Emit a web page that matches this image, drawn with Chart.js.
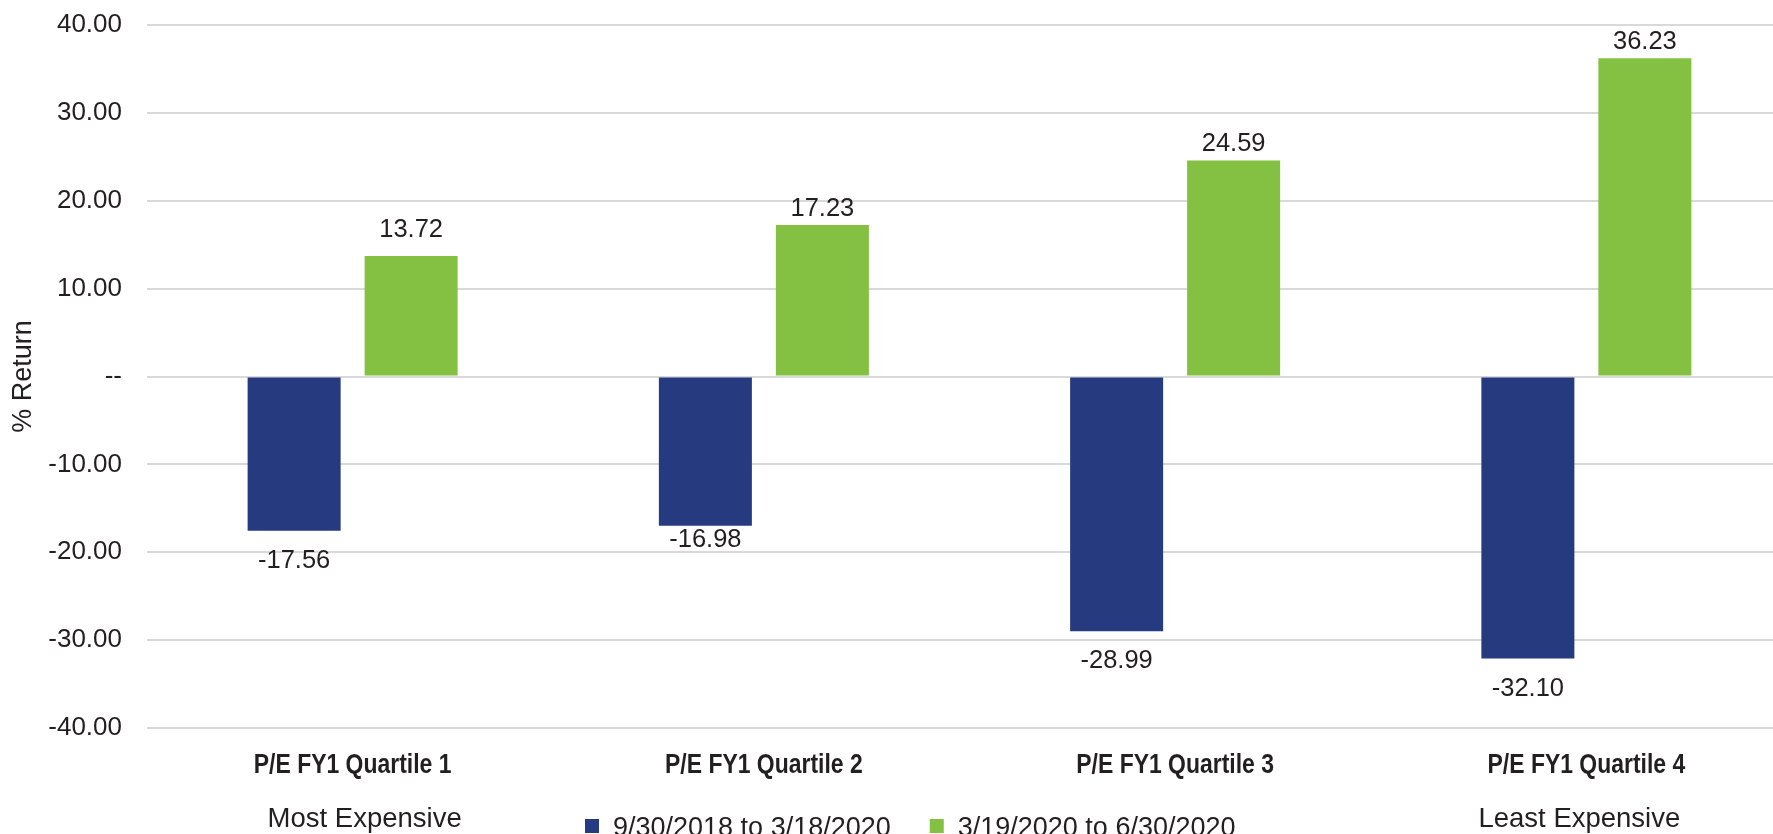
<!DOCTYPE html>
<html lang="en">
<head>
    <meta charset="UTF-8">
    <title>P/E FY1 Quartile Returns</title>
    <script src="https://cdn.jsdelivr.net/npm/chart.js"></script>
    <style>
        html, body {
            margin: 0;
            padding: 0;
            background: #ffffff;
            overflow: hidden;
        }
        /* the original chart runs a little past the right edge, so crop it */
        #wrap {
            width: 1773px;
            height: 834px;
            overflow: hidden;
        }
    </style>
</head>
<body>
    <div id="wrap">
        <canvas id="peChart" width="1792" height="834"></canvas>
    </div>

    <script>
        // Data
        const categories = ['P/E FY1 Quartile 1', 'P/E FY1 Quartile 2', 'P/E FY1 Quartile 3', 'P/E FY1 Quartile 4'];
        const subLabels = ['Most Expensive', '', '', 'Least Expensive'];
        const seriesNames = ['9/30/2018 to 3/18/2020', '3/19/2020 to 6/30/2020'];
        const selloff = [-17.56, -16.98, -28.99, -32.10];
        const rebound = [13.72, 17.23, 24.59, 36.23];
        const yTicks = [-40, -30, -20, -10, 0, 10, 20, 30, 40];

        const blue = '#263a80';
        const green = '#84c041';
        const textColor = '#231f20';
        const sans = '"Liberation Sans", Arial, sans-serif';

        // label offsets from the bar end (px), per dataset / bar, as placed in the original
        const labelGap = [[37, 21, 37, 37], [19, 9, 9, 9]];

        // value labels above / below each bar
        const valueLabels = {
            id: 'valueLabels',
            afterDatasetsDraw(chart) {
                const ctx = chart.ctx;
                ctx.save();
                ctx.font = '25.5px ' + sans;
                ctx.fillStyle = textColor;
                ctx.textAlign = 'center';
                ctx.textBaseline = 'alphabetic';
                chart.data.datasets.forEach((ds, i) => {
                    chart.getDatasetMeta(i).data.forEach((bar, j) => {
                        const v = ds.data[j];
                        const gap = labelGap[i][j];
                        const y = v >= 0 ? bar.y - gap : bar.y + gap;
                        ctx.fillText(v.toFixed(2), bar.x, y);
                    });
                });
                ctx.restore();
            }
        };

        // category labels (condensed bold), sub labels and legend row
        const bottomRow = {
            id: 'bottomRow',
            afterDraw(chart) {
                const ctx = chart.ctx;
                const xs = chart.scales.x;
                const area = chart.chartArea;
                ctx.save();
                ctx.fillStyle = textColor;
                ctx.textBaseline = 'alphabetic';
                ctx.textAlign = 'center';

                // category names, squeezed to look like a condensed face
                ctx.font = 'bold 27px ' + sans;
                categories.forEach((c, i) => {
                    const cx = xs.getPixelForValue(i);
                    ctx.save();
                    ctx.translate(cx, area.bottom + 45);
                    ctx.scale(0.85, 1);
                    ctx.fillText(c, 0, 0);
                    ctx.restore();
                });

                // Most / Least Expensive
                ctx.font = '27.5px ' + sans;
                const nudge = [12, 0, 0, -7];
                subLabels.forEach((t, i) => {
                    if (t) ctx.fillText(t, xs.getPixelForValue(i) + nudge[i], area.bottom + 99);
                });

                // legend
                ctx.font = '27px ' + sans;
                ctx.textAlign = 'left';
                let x = area.left + 438;
                chart.data.datasets.forEach((ds) => {
                    ctx.fillStyle = ds.backgroundColor;
                    ctx.fillRect(x, area.bottom + 91, 14, 14);
                    ctx.fillStyle = textColor;
                    ctx.fillText(ds.label, x + 28, area.bottom + 108);
                    x += 28 + ctx.measureText(ds.label).width + 39;
                });
                ctx.restore();
            }
        };

        const ctx = document.getElementById('peChart').getContext('2d');
        const peChart = new Chart(ctx, {
            type: 'bar',
            data: {
                labels: categories,
                datasets: [
                    {
                        label: seriesNames[0],
                        data: selloff,
                        backgroundColor: blue,
                        borderWidth: 0,
                        categoryPercentage: 0.569,
                        barPercentage: 0.795
                    },
                    {
                        label: seriesNames[1],
                        data: rebound,
                        backgroundColor: green,
                        borderWidth: 0,
                        categoryPercentage: 0.569,
                        barPercentage: 0.795
                    }
                ]
            },
            options: {
                responsive: false,
                animation: false,
                devicePixelRatio: 1,
                layout: {
                    padding: { top: 25, right: 0, bottom: 106, left: 7 }
                },
                scales: {
                    x: {
                        display: false
                    },
                    y: {
                        min: -40,
                        max: 40,
                        afterBuildTicks(scale) {
                            scale.ticks = yTicks.map(v => ({ value: v }));
                        },
                        afterFit(scale) {
                            scale.width = 140;
                            scale.paddingTop = 0;
                            scale.paddingBottom = 0;
                        },
                        grid: {
                            color: '#d9d9d9',
                            lineWidth: 2,
                            drawTicks: false
                        },
                        border: { display: false },
                        ticks: {
                            color: textColor,
                            padding: 25,
                            font: { family: sans, size: 26 },
                            callback: v => v === 0 ? '--' : Number(v).toFixed(2)
                        },
                        title: {
                            display: true,
                            text: '% Return',
                            color: textColor,
                            padding: { top: 0, bottom: 8 },
                            font: { family: sans, size: 27 }
                        }
                    }
                },
                plugins: {
                    legend: { display: false },
                    tooltip: { enabled: false }
                }
            },
            plugins: [valueLabels, bottomRow]
        });
    </script>
</body>
</html>
